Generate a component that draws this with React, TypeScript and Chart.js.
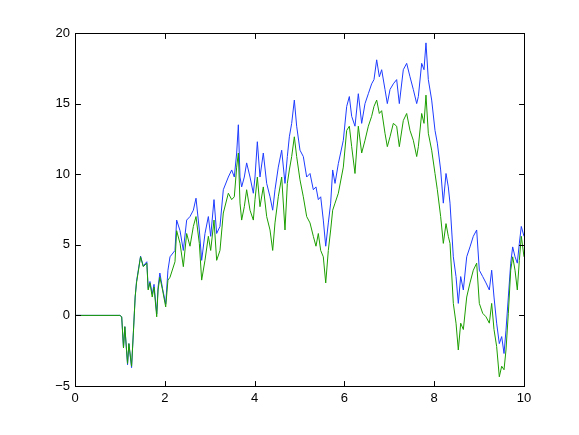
import React, { useEffect, useRef } from "react";
import { Chart, registerables } from "chart.js";

Chart.register(...registerables);

const xs = [
  0, 1.0, 1.04, 1.08, 1.11, 1.17, 1.2, 1.26, 1.3, 1.34, 1.37, 1.46, 1.52, 1.6, 1.63, 1.67, 1.72, 1.76, 1.82, 1.85, 1.89, 1.95, 2.02, 2.07,
  2.116, 2.227, 2.264, 2.339, 2.413, 2.487, 2.561, 2.636, 2.695, 2.769, 2.821, 2.895, 2.97, 3.022, 3.096, 3.155, 3.229, 3.303,
  3.415, 3.49, 3.548, 3.601, 3.638, 3.675, 3.712, 3.771, 3.823, 3.898, 3.972, 4.009, 4.061, 4.12, 4.194, 4.269, 4.343, 4.403, 4.454, 4.528, 4.603,
  4.677, 4.729, 4.774, 4.826, 4.885, 4.937, 5.011, 5.085, 5.16, 5.234, 5.308, 5.367, 5.419, 5.472, 5.53, 5.584, 5.642, 5.694, 5.739, 5.791, 5.865,
  5.976, 6.051, 6.11, 6.162, 6.236, 6.31, 6.385, 6.459, 6.533, 6.607, 6.659, 6.719, 6.778, 6.83, 6.904, 6.956, 7.016, 7.09, 7.164, 7.223,
  7.312, 7.387, 7.461, 7.535, 7.61, 7.647, 7.721, 7.773, 7.817, 7.869, 7.944, 8.018, 8.07, 8.144, 8.203, 8.263, 8.314, 8.352, 8.426, 8.486,
  8.537, 8.59, 8.649, 8.724, 8.797, 8.871, 8.946, 9.005, 9.08, 9.154, 9.228, 9.28, 9.332, 9.391, 9.45, 9.503, 9.555, 9.599, 9.651, 9.704,
  9.748, 9.8, 9.851, 9.896, 9.94, 10.0,
];

const blueSeries = [
  0, 0, -0.1, -2.3, -0.8, -3.5, -2.0, -3.7, -1.2, 1.3, 2.4, 4.2, 3.5, 3.8, 1.9, 2.4, 1.5, 2.2, 0.1, 2.0, 3.0, 1.9, 0.8, 3.2,
  4.15, 4.6, 6.75, 6.0, 4.6, 6.75, 7.0, 7.45, 8.3, 6.05, 3.9, 5.8, 7.0, 5.6, 8.2, 5.8, 6.3, 8.9,
  9.8, 10.3, 9.8, 11.5, 13.5, 9.8, 9.1, 9.8, 10.8, 9.8, 8.65, 9.8, 12.3, 9.8, 11.5, 9.35, 8.4, 7.45, 8.9, 10.5, 11.7,
  9.35, 11.25, 12.65, 13.6, 15.25, 13.4, 11.7, 11.25, 9.8, 10.05, 8.9, 9.1, 8.2, 8.4, 6.75, 4.9, 6.55, 7.95, 10.3, 9.35, 10.75,
  12.4, 14.8, 15.5, 14.1, 13.4, 15.7, 13.6, 15.0, 15.7, 16.4, 16.7, 18.1, 16.9, 17.4, 16.0, 15.0, 16.0, 16.4, 16.7, 15.0,
  17.4, 17.85, 16.9, 16.0, 15.0, 15.5, 17.85, 17.4, 19.3, 16.7, 15.25, 13.1, 12.2, 10.3, 7.95, 10.05, 9.1, 7.95, 4.15, 2.75,
  0.85, 2.75, 1.8, 4.15, 4.85, 5.6, 6.05, 3.2, 2.75, 2.3, 1.8, 3.2, 1.3, -0.55, -2.0, -1.5, -2.7, -1.05, 1.3, 3.7,
  4.85, 4.15, 3.7, 5.1, 6.3, 5.6,
];

const greenSeries = [
  0, 0, -0.1, -2.3, -0.8, -3.4, -2.0, -3.6, -1.25, 1.3, 2.3, 4.15, 3.45, 3.7, 1.8, 2.3, 1.3, 2.0, -0.1, 1.8, 2.7, 1.8, 0.6, 2.5,
  2.7, 3.8, 6.0, 5.1, 3.45, 5.8, 4.9, 6.3, 7.0, 5.1, 2.5, 3.9, 5.6, 4.6, 6.75, 3.9, 4.6, 7.25,
  8.65, 8.2, 8.4, 10.5, 11.5, 7.95, 6.75, 7.7, 8.9, 7.45, 6.75, 8.2, 9.8, 7.7, 9.1, 7.0, 6.05, 4.6, 6.55, 8.4, 9.8,
  6.05, 9.35, 10.3, 11.25, 12.65, 11.25, 9.6, 8.4, 7.0, 6.55, 5.6, 4.9, 5.8, 4.6, 4.15, 2.3, 4.6, 6.05, 7.45, 7.95, 8.65,
  10.5, 13.1, 13.4, 11.95, 10.05, 13.4, 11.5, 12.4, 13.4, 14.1, 14.8, 15.25, 14.3, 14.5, 12.9, 11.95, 12.65, 13.6, 13.4, 11.95,
  13.8, 14.3, 13.1, 12.4, 11.25, 11.95, 14.3, 13.6, 15.6, 12.9, 11.7, 10.05, 8.9, 7.0, 5.1, 6.5, 5.6, 5.1, 0.85, -0.55,
  -2.45, -0.55, -1.0, 1.3, 2.3, 3.2, 3.7, 0.85, 0.15, -0.1, -0.55, 0.85, -1.0, -2.2, -4.35, -3.6, -3.85, -2.45, 0.15, 3.2,
  4.15, 3.2, 1.8, 3.9, 5.6, 4.15,
];

const xTicks = [0, 2, 4, 6, 8, 10];
const yTicks = [-5, 0, 5, 10, 15, 20];

const FONT = "'Liberation Sans', Arial, Helvetica, sans-serif";

const W = 579;
const H = 435;
const AREA_LEFT = 75;
const AREA_TOP = 33;
const AREA_RIGHT = 524;
const AREA_BOTTOM = 386;

function drawFrame(chart: any) {
  const ctx = chart.ctx;
  const area = chart.chartArea;
  if (!ctx || !area) return;
  const sx = chart.scales.x;
  const sy = chart.scales.y;
  const l = Math.round(area.left) + 0.5;
  const r = Math.round(area.right) + 0.5;
  const t = Math.round(area.top) + 0.5;
  const b = Math.round(area.bottom) + 0.5;
  ctx.save();
  ctx.setLineDash([]);
  ctx.globalAlpha = 1;
  ctx.globalCompositeOperation = "source-over";
  ctx.strokeStyle = "rgb(0,0,0)";
  ctx.lineWidth = 1;
  ctx.beginPath();
  ctx.moveTo(l, t);
  ctx.lineTo(r, t);
  ctx.lineTo(r, b);
  ctx.lineTo(l, b);
  ctx.lineTo(l, t);
  if (sx && sy) {
    for (let i = 0; i < xTicks.length; i++) {
      const px = Math.round(sx.getPixelForValue(xTicks[i])) + 0.5;
      ctx.moveTo(px, b);
      ctx.lineTo(px, b - 5);
      ctx.moveTo(px, t);
      ctx.lineTo(px, t + 5);
    }
    for (let i = 0; i < yTicks.length; i++) {
      const py = Math.round(sy.getPixelForValue(yTicks[i])) + 0.5;
      ctx.moveTo(l, py);
      ctx.lineTo(l + 5, py);
      ctx.moveTo(r, py);
      ctx.lineTo(r - 5, py);
    }
  }
  ctx.stroke();
  ctx.restore();
}

const framePlugin = {
  id: "matlabFrame",
  afterDatasetsDraw(chart: any) {
    drawFrame(chart);
  },
  afterDraw(chart: any) {
    drawFrame(chart);
  },
};

export default function App() {
  const ref = useRef<HTMLCanvasElement | null>(null);
  useEffect(() => {
    if (!ref.current) return;
    const chart = new Chart(ref.current, {
      type: "scatter",
      data: {
        datasets: [
          {
            data: xs.map((x, i) => ({ x, y: greenSeries[i] })),
            borderColor: "rgb(28,158,0)",
            borderWidth: 1,
            showLine: true,
            pointRadius: 0,
          },
          {
            data: xs.map((x, i) => ({ x, y: blueSeries[i] })),
            borderColor: "rgb(30,60,255)",
            borderWidth: 1,
            showLine: true,
            pointRadius: 0,
          },
        ],
      },
      options: {
        responsive: false,
        animation: false,
        devicePixelRatio: 1,
        layout: { padding: { top: AREA_TOP, right: W - AREA_RIGHT, left: 0, bottom: 0 } },
        plugins: { legend: { display: false } },
        scales: {
          x: {
            type: "linear",
            min: 0,
            max: 10,
            afterFit: (s: any) => {
              s.height = H - AREA_BOTTOM;
            },
            grid: { display: false, drawTicks: false },
            border: { display: true, color: "#000" },
            ticks: {
              stepSize: 2,
              color: "#000",
              padding: 5,
              maxRotation: 0,
              font: { family: FONT, size: 13 },
              callback: (v: any) => String(v).replace("-", "\u2212"),
            },
          },
          y: {
            type: "linear",
            min: -5,
            max: 20,
            afterFit: (s: any) => {
              s.width = AREA_LEFT;
            },
            grid: { display: false, drawTicks: false },
            border: { display: true, color: "#000" },
            ticks: {
              stepSize: 5,
              color: "#000",
              padding: 5,
              font: { family: FONT, size: 13 },
              callback: (v: any) => String(v).replace("-", "\u2212"),
            },
          },
        },
      },
      plugins: [framePlugin],
    });
    drawFrame(chart);
    const timer = window.setTimeout(() => drawFrame(chart), 50);
    return () => {
      window.clearTimeout(timer);
      chart.destroy();
    };
  }, []);

  return (
    <div style={{ position: "fixed", left: 0, top: 0, width: W, height: H, background: "#fff" }}>
      <canvas ref={ref} width={W} height={H} style={{ position: "absolute", left: 0, top: 0 }} />
      <div
        style={{
          position: "absolute",
          left: AREA_LEFT,
          top: AREA_TOP,
          width: AREA_RIGHT - AREA_LEFT + 1,
          height: AREA_BOTTOM - AREA_TOP + 1,
          border: "1px solid #000",
          boxSizing: "border-box",
          pointerEvents: "none",
          zIndex: 10,
        }}
      />
    </div>
  );
}
